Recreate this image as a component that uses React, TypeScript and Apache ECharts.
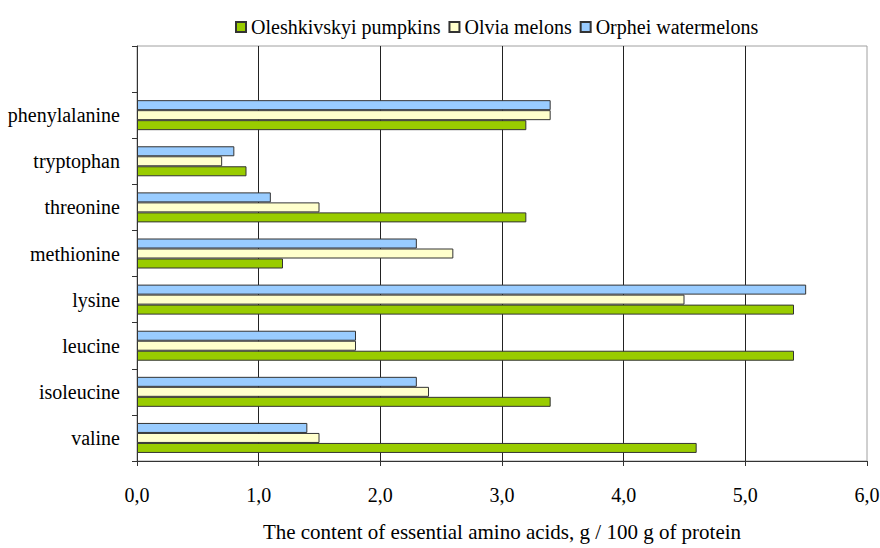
import React, { useEffect, useRef } from "react";
import * as echarts from "echarts";

const categories = ["valine", "isoleucine", "leucine", "lysine", "methionine", "threonine", "tryptophan", "phenylalanine", ""];
const pumpkins = [4.6, 3.4, 5.4, 5.4, 1.2, 3.2, 0.9, 3.2, null];
const melons = [1.5, 2.4, 1.8, 4.5, 2.6, 1.5, 0.7, 3.4, null];
const watermelons = [1.4, 2.3, 1.8, 5.5, 2.3, 1.1, 0.8, 3.4, null];
const seriesNames = ["Oleshkivskyi pumpkins", "Olvia melons", "Orphei watermelons"];
const colors = ["#99cc00", "#ffffcc", "#99ccff"];
const axisTitle = "The content of essential amino acids, g / 100 g of protein";

const FONT = "serif";

export default function App() {
  const ref = useRef<HTMLDivElement>(null);
  useEffect(() => {
    document.body.style.margin = "0";
    if (!ref.current) return;
    const chart = echarts.init(ref.current, null, { renderer: "svg" });
    const data = [pumpkins, melons, watermelons];
    const order = [2, 1, 0];
    chart.setOption({
      animation: false,
      backgroundColor: "#ffffff",
      textStyle: { fontFamily: FONT },
      legend: {
        top: 12,
        left: 230,
        icon: "rect",
        itemWidth: 10,
        itemHeight: 10,
        itemGap: 8,
        textStyle: { fontFamily: FONT, fontSize: 20, color: "#000" },
        data: seriesNames,
      },
      grid: {
        left: 137,
        right: 13,
        top: 46,
        bottom: 87,
        show: true,
        borderColor: "#a0a0a0",
        borderWidth: 1,
        containLabel: false,
        outerBoundsMode: "none",
      },
      xAxis: {
        type: "value",
        min: 0,
        max: 6,
        interval: 1,
        name: axisTitle,
        nameLocation: "middle",
        nameGap: 60,
        nameTextStyle: { fontFamily: FONT, fontSize: 21, color: "#000" },
        axisLine: { show: true, lineStyle: { color: "#333", width: 1 } },
        axisTick: { show: true, length: 5, lineStyle: { color: "#333" } },
        axisLabel: {
          margin: 24,
          fontFamily: FONT,
          fontSize: 20,
          color: "#000",
          formatter: (v: number) => v.toFixed(1).replace(".", ","),
        },
        splitLine: { show: true, showMinLine: false, showMaxLine: false, lineStyle: { color: "#222", width: 1 } },
      },
      yAxis: {
        type: "category",
        data: categories,
        axisLine: { show: true, lineStyle: { color: "#333", width: 1 } },
        axisTick: { show: true, length: 5, lineStyle: { color: "#333" } },
        axisLabel: { margin: 17, fontFamily: FONT, fontSize: 20, color: "#000" },
        splitLine: { show: false },
      },
      series: order.map((i) => ({
        name: seriesNames[i],
        type: "bar",
        data: data[i],
        barWidth: 10,
        barGap: "0%",
        itemStyle: { color: colors[i], borderColor: "#333", borderWidth: 1 },
      })),
    });
    return () => chart.dispose();
  }, []);
  return <div ref={ref} style={{ width: 880, height: 548 }} />;
}
